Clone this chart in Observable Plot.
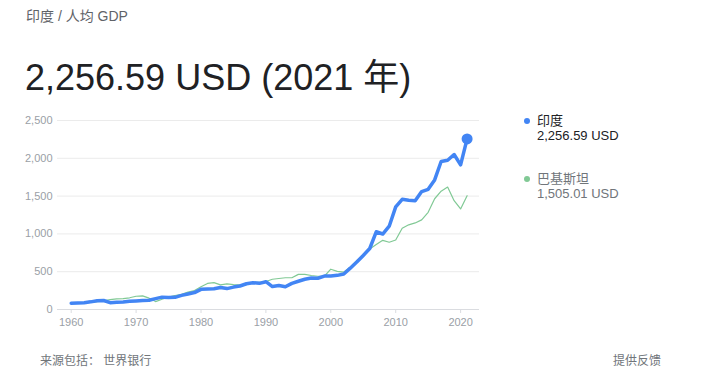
<!DOCTYPE html>
<html><head><meta charset="utf-8">
<script src="https://cdn.jsdelivr.net/npm/d3@7"></script>
<script src="https://cdn.jsdelivr.net/npm/@observablehq/plot@0.6"></script>
<style>
body{margin:0;background:#fff;font-family:Arial,"Liberation Sans","Noto Sans CJK SC",sans-serif;}
#wrap{position:relative;width:710px;height:377px;overflow:hidden;}
.abs{position:absolute;white-space:nowrap;}
#crumb{left:26px;top:5px;font-size:14px;color:#5f6368;}
#big{left:25px;top:48px;font-size:36px;color:#202124;}
#chart{left:0;top:100px;}
.leg{font-size:13px;line-height:15px;}
.dot{position:absolute;width:6px;height:6px;border-radius:50%;}
#src{left:40px;top:351px;font-size:12px;color:#70757a;}
#fb{left:613px;top:351px;font-size:12px;color:#70757a;}
</style></head>
<body><div id="wrap">
<div id="crumb" class="abs">印度 / 人均 GDP</div>
<div id="big" class="abs">2,256.59 USD (2021 年)</div>
<div id="chart" class="abs"></div>
<div class="dot" style="left:524px;top:118px;background:#4285f4"></div>
<div class="abs leg" style="left:537px;top:113px;color:#202124">印度<br>2,256.59 USD</div>
<div class="dot" style="left:524px;top:176px;background:#81c995"></div>
<div class="abs leg" style="left:537px;top:171px;color:#70757a">巴基斯坦<br>1,505.01 USD</div>
<div id="src" class="abs">来源包括： 世界银行</div>
<div id="fb" class="abs">提供反馈</div>
</div>
<script>
const years = d3.range(1960, 2022);
const india = [82.2,85.4,90.0,101.1,115.5,119.0,89.9,96.0,99.0,107.6,112.4,118.6,122.9,143.8,163.5,158.0,161.1,186.4,205.7,224.0,266.6,270.5,274.1,291.2,276.7,296.4,310.5,340.4,354.2,346.1,367.6,303.1,316.9,301.2,346.2,373.8,399.9,415.5,413.3,441.8,443.3,451.6,470.0,546.7,627.8,714.9,806.8,1028.3,998.5,1101.9,1357.6,1458.1,1443.9,1438.1,1559.9,1590.2,1714.3,1957.97,1974.4,2050.2,1913.2,2256.59];
const pakistan = [82,86,90,95,105,113,130,140,145,155,175,180,150,105,135,165,185,200,230,250,300,345,355,325,340,330,325,330,360,360,370,400,410,420,420,465,465,450,440,440,533,505,495,560,645,715,800,860,915,890,920,1075,1120,1145,1185,1285,1465,1565,1620,1440,1330,1505.01];
const yTicks = [0,500,1000,1500,2000,2500];
const xTicks = [1960,1970,1980,1990,2000,2010,2020];

const indRows = years.map((y,i)=>({year:y, v:india[i]}));
const pakRows = years.map((y,i)=>({year:y, v:pakistan[i]}));

const chart = Plot.plot({
  width: 710, height: 240,
  marginLeft: 57, marginRight: 231, marginTop: 20, marginBottom: 31,
  style: {fontFamily: "Arial, 'Liberation Sans', sans-serif", fontSize: "11px", color: "#9aa0a6", background: "transparent"},
  x: {domain: [1960, 2021], insetLeft: 13.7, insetRight: 12.4},
  y: {domain: [0, 2500]},
  marks: [
    Plot.ruleY(yTicks.slice(1), {stroke: "#ebebeb", strokeWidth: 1}),
    Plot.ruleY([0], {stroke: "#dadce0", strokeWidth: 1}),
    Plot.axisY({ticks: yTicks, tickSize: 0, tickPadding: 5, tickFormat: d3.format(","), label: null, fill: "#9aa0a6"}),
    Plot.axisX({ticks: xTicks, tickSize: 4, tickPadding: 5, tickFormat: d => String(d), label: null, stroke: "#dadce0", fill: "#9aa0a6"}),
    Plot.line(pakRows, {x: "year", y: "v", stroke: "#81c995", strokeWidth: 1.2}),
    Plot.line(indRows, {x: "year", y: "v", stroke: "#4285f4", strokeWidth: 3.5, strokeLinejoin: "round", strokeLinecap: "round"}),
    Plot.dot(indRows.slice(-1), {x: "year", y: "v", r: 5.5, fill: "#4285f4"})
  ]
});
document.getElementById("chart").appendChild(chart);
</script>
</body></html>
